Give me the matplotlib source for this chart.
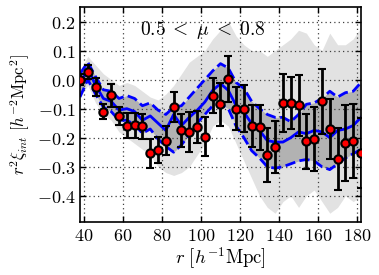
import numpy as np
import matplotlib
matplotlib.use('Agg')
import matplotlib.pyplot as plt
from matplotlib.ticker import FormatStrFormatter, MultipleLocator

plt.rcParams['mathtext.fontset'] = 'cm'
plt.rcParams['font.family'] = 'DejaVu Serif'

# separation bins
r = np.arange(38, 183, 4)

# measured xi_int with errors (red points)
xi = [0.0, 0.026, -0.026, -0.11, -0.054, -0.125, -0.159, -0.157, -0.16, -0.253,
      -0.243, -0.21, -0.095, -0.175, -0.18, -0.164, -0.196, -0.055, -0.085, 0.002,
      -0.10, -0.10, -0.16, -0.164, -0.26, -0.232, -0.081, -0.081, -0.089, -0.212,
      -0.204, -0.074, -0.17, -0.273, -0.219, -0.212, -0.253]
err = [0.02, 0.023, 0.03, 0.026, 0.04, 0.032, 0.043, 0.043, 0.043, 0.05,
       0.045, 0.05, 0.052, 0.058, 0.069, 0.055, 0.068, 0.059, 0.075, 0.078,
       0.074, 0.08, 0.072, 0.078, 0.092, 0.088, 0.1, 0.09, 0.104, 0.095,
       0.11, 0.112, 0.104, 0.107, 0.13, 0.127, 0.12]

# mock mean and 1-sigma (blue lines)
mock_mean = [-0.02, 0.04, -0.02, -0.065, -0.075, -0.105, -0.10, -0.11, -0.14, -0.125,
             -0.15, -0.175, -0.12, -0.158, -0.13, -0.106, -0.077, -0.037, -0.014, -0.037,
             -0.089, -0.112, -0.152, -0.175, -0.21, -0.215, -0.215, -0.2, -0.18, -0.186,
             -0.175, -0.18, -0.2, -0.175, -0.17, -0.158, -0.13]
mock_hi = [0.02, 0.06, 0.01, -0.035, -0.04, -0.065, -0.055, -0.065, -0.09, -0.08,
           -0.105, -0.12, -0.095, -0.09, -0.06, -0.03, 0.0, 0.03, 0.055, 0.04,
           -0.01, -0.03, -0.075, -0.1, -0.12, -0.13, -0.13, -0.145, -0.12, -0.085,
           -0.08, -0.065, -0.04, -0.06, -0.045, -0.04, -0.01]
mock_lo = [-0.06, 0.0, -0.05, -0.095, -0.11, -0.14, -0.14, -0.155, -0.185, -0.17,
           -0.205, -0.23, -0.25, -0.225, -0.19, -0.15, -0.12, -0.09, -0.085, -0.1,
           -0.16, -0.2, -0.245, -0.27, -0.3, -0.305, -0.3, -0.29, -0.28, -0.275,
           -0.28, -0.3, -0.31, -0.29, -0.27, -0.255, -0.24]

# envelope of the individual mocks (grey spaghetti)
env_hi = [0.03, 0.08, 0.05, 0.02, 0.0, -0.02, -0.01, -0.02, -0.04, -0.06,
          -0.07, -0.05, -0.02, 0.02, 0.06, 0.08, 0.1, 0.14, 0.17, 0.2,
          0.15, 0.12, 0.1, 0.1, 0.08, 0.1, 0.12, 0.14, 0.17, 0.16,
          0.12, 0.1, 0.16, 0.12, 0.12, 0.14, 0.18]
env_lo = [-0.06, -0.02, -0.08, -0.12, -0.14, -0.18, -0.2, -0.22, -0.24, -0.26,
          -0.3, -0.32, -0.33, -0.32, -0.3, -0.26, -0.22, -0.16, -0.14, -0.16,
          -0.22, -0.28, -0.34, -0.4, -0.44, -0.46, -0.42, -0.4, -0.44, -0.4,
          -0.38, -0.42, -0.46, -0.44, -0.4, -0.42, -0.4]

fig = plt.figure(figsize=(3.79, 2.75), dpi=100)
ax = fig.add_axes([0.211, 0.193, 0.7415, 0.7815])

ax.fill_between(r, env_lo, env_hi, color='#e2e2e2', lw=0, zorder=1)
ax.fill_between(r, mock_lo, mock_hi, color='#b2b2b2', lw=0, zorder=1)

ax.plot(r, mock_mean, '-', color='blue', lw=2, zorder=2)
ax.plot(r, mock_hi, '--', color='blue', lw=2, zorder=2)
ax.plot(r, mock_lo, '--', color='blue', lw=2, zorder=2)

ax.errorbar(r, xi, yerr=err, fmt='o', color='black', mfc='red', mec='black',
            ms=6, mew=1.5, elinewidth=2, capsize=3, capthick=2, zorder=3)

ax.text(101, 0.17, r'$0.5\;<\;\mu\;<\;0.8$', fontsize=14, ha='center', va='center')

ax.set_xlim(38, 182)
ax.set_ylim(-0.49, 0.25)
ax.xaxis.set_major_locator(MultipleLocator(20))
ax.yaxis.set_major_locator(MultipleLocator(0.1))
ax.xaxis.set_major_formatter(FormatStrFormatter('$%d$'))
ax.yaxis.set_major_formatter(FormatStrFormatter('$%.1f$'))
ax.tick_params(direction='in', top=True, right=True, labelsize=13, length=4, width=1)
ax.grid(True, color='0.25', linestyle=(0, (1, 2.5)), linewidth=0.9)
for s in ax.spines.values():
    s.set_linewidth(1.2)

ax.set_xlabel(r'$r\ [h^{-1}{\rm Mpc}]$', fontsize=13.5, labelpad=0)
ax.set_ylabel(r'$r^2\xi_{int}\ [h^{-2}{\rm Mpc}^2]$', fontsize=12, labelpad=3)

plt.savefig('out.png', dpi=100)
